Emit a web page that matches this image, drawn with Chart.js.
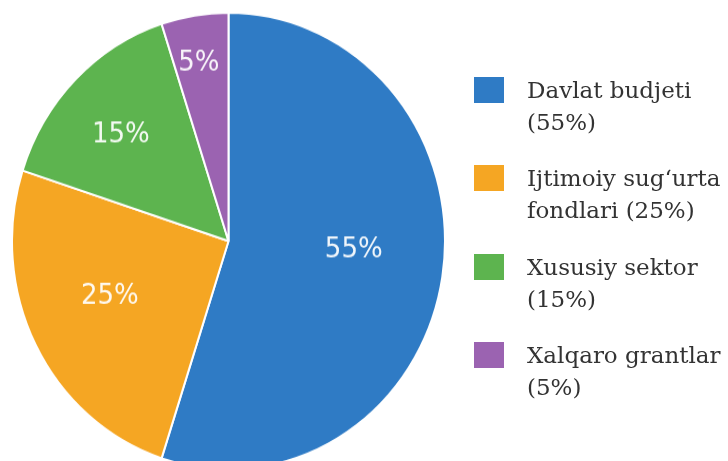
<!DOCTYPE html>
<html>
<head>
<meta charset="utf-8">
<script src="https://cdn.jsdelivr.net/npm/chart.js@4/dist/chart.umd.min.js"></script>
<style>
  html, body { margin: 0; padding: 0; background: #fff; }
  body { width: 728px; height: 461px; position: relative; overflow: hidden; }
  #stage { position: absolute; left: 0; top: 0; width: 728px; height: 437px; transform: scaleY(1.055); transform-origin: 0 0; }
  #pieBox { position: absolute; left: 11px; top: 11px; width: 435px; height: 435px; }
  #legend { position: absolute; left: 474px; top: 0; width: 254px; }
  .item { position: absolute; left: 0; width: 254px; }
  .sw { position: absolute; left: 0; width: 30px; height: 26px; }
  .txt { position: absolute; left: 53px; white-space: nowrap; font-family: "DejaVu Serif", serif; font-size: 23px; line-height: 32px; color: #333; }
</style>
</head>
<body>
<div id="stage"><div id="pieBox"><canvas id="c"></canvas></div></div>
<div id="legend"></div>
<script>
const categories = ['Davlat budjeti', 'Ijtimoiy sug\u2018urta fondlari', 'Xususiy sektor', 'Xalqaro grantlar'];
const shares = [55, 25, 15, 5];
const sliceLabels = ['55%', '25%', '15%', '5%'];
const legendLines = [
  ['Davlat budjeti', '(55%)'],
  ['Ijtimoiy sug\u2018urta', 'fondlari (25%)'],
  ['Xususiy sektor', '(15%)'],
  ['Xalqaro grantlar', '(5%)']
];
const colors = ['#2f7bc5', '#f5a623', '#5db44f', '#9b63b1'];
const labelRadiusFrac = [0.58, 0.60, 0.68, 0.79];
const labelAngleShiftDeg = [-5, 3, -2, -1];

const labelPlugin = {
  id: 'sliceLabels',
  afterDatasetsDraw(chart) {
    const ctx = chart.ctx;
    const meta = chart.getDatasetMeta(0);
    ctx.save();
    ctx.font = '26px "DejaVu Sans", sans-serif';
    ctx.fillStyle = 'rgba(255,255,255,0.93)';
    ctx.textAlign = 'center';
    ctx.textBaseline = 'middle';
    meta.data.forEach((arc, i) => {
      const p = arc.getProps(['x', 'y', 'startAngle', 'endAngle', 'outerRadius'], true);
      const mid = (p.startAngle + p.endAngle) / 2 + labelAngleShiftDeg[i] * Math.PI / 180;
      const r = p.outerRadius * labelRadiusFrac[i];
      ctx.fillText(sliceLabels[i], p.x + Math.cos(mid) * r, p.y + Math.sin(mid) * r);
    });
    ctx.restore();
  }
};

new Chart(document.getElementById('c'), {
  type: 'pie',
  data: {
    labels: categories,
    datasets: [{
      data: shares,
      backgroundColor: colors,
      borderColor: '#ffffff',
      borderWidth: 2
    }]
  },
  options: {
    responsive: true,
    maintainAspectRatio: false,
    animation: false,
    layout: { padding: 0 },
    plugins: { legend: { display: false }, tooltip: { enabled: false } }
  },
  plugins: [labelPlugin]
});

const legend = document.getElementById('legend');
const itemTop0 = 77, itemStep = 88.3;
legendLines.forEach((lines, i) => {
  const item = document.createElement('div');
  item.className = 'item';
  item.style.top = (itemTop0 + i * itemStep) + 'px';
  const sw = document.createElement('div');
  sw.className = 'sw';
  sw.style.background = colors[i];
  item.appendChild(sw);
  const t = document.createElement('div');
  t.className = 'txt';
  t.style.top = '-3px';
  t.innerHTML = lines.map(s => s.replace(/&/g, '&amp;').replace(/</g, '&lt;')).join('<br>');
  item.appendChild(t);
  legend.appendChild(item);
});
</script>
</body>
</html>
